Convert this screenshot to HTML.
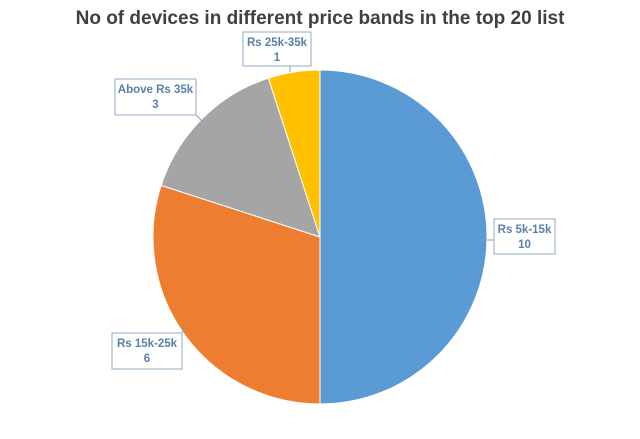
<!DOCTYPE html>
<html><head><meta charset="utf-8"><style>
body{margin:0;background:#fff;font-family:"Liberation Sans",sans-serif}
svg{display:block}
</style></head><body>
<svg width="640" height="439" viewBox="0 0 640 439">
<text x="320" y="24" text-anchor="middle" font-size="19" font-weight="bold" fill="#404040">No of devices in different price bands in the top 20 list</text>
<g id="slices"></g>
<g id="labels"></g>
</svg>
<script>
const categories=["Rs 5k-15k","Rs 15k-25k","Above Rs 35k","Rs 25k-35k"];
const values=[10,6,3,1];
const colors=["#5b9bd5","#ed7d31","#a5a5a5","#ffc000"];
const boxes=[[494,219,61,35,487,240],[112,333,70,36,186,327],[115,79,81,36,203,122],[243,32,68,34,290,72]];
const cx=320,cy=237,r=167;
const ns="http://www.w3.org/2000/svg";
const total=values.reduce((a,b)=>a+b,0);
let a0=0;
const sg=document.getElementById("slices"),lg=document.getElementById("labels");
values.forEach((v,i)=>{
  const a1=a0+v/total*2*Math.PI;
  const x0=cx+r*Math.sin(a0),y0=cy-r*Math.cos(a0),x1=cx+r*Math.sin(a1),y1=cy-r*Math.cos(a1);
  const p=document.createElementNS(ns,"path");
  p.setAttribute("d",`M${cx},${cy}L${x0},${y0}A${r},${r} 0 ${a1-a0>Math.PI?1:0} 1 ${x1},${y1}Z`);
  p.setAttribute("fill",colors[i]);p.setAttribute("stroke","#fff");p.setAttribute("stroke-width","1");
  
  
  sg.appendChild(p);
  const b=boxes[i];
  const g=document.createElementNS(ns,"g");
  
  
  const ln=document.createElementNS(ns,"line");
  const bx=Math.max(b[0],Math.min(b[0]+b[2],b[4])),by=Math.max(b[1],Math.min(b[1]+b[3],b[5]));
  ln.setAttribute("x1",bx);ln.setAttribute("y1",by);ln.setAttribute("x2",b[4]);ln.setAttribute("y2",b[5]);
  ln.setAttribute("stroke","#7f9fc0");
  g.appendChild(ln);
  const rc=document.createElementNS(ns,"rect");
  rc.setAttribute("x",b[0]);rc.setAttribute("y",b[1]);rc.setAttribute("width",b[2]);rc.setAttribute("height",b[3]);
  rc.setAttribute("fill","#fff");rc.setAttribute("stroke","#8fa9c6");
  g.appendChild(rc);
  [categories[i],String(v)].forEach((s,k)=>{
    const t=document.createElementNS(ns,"text");
    t.setAttribute("x",b[0]+b[2]/2);t.setAttribute("y",b[1]+14+k*15);
    t.setAttribute("text-anchor","middle");t.setAttribute("font-size","11.5");t.setAttribute("font-weight","bold");t.setAttribute("fill","#5a7fa8");
    t.textContent=s;g.appendChild(t);
  });
  lg.appendChild(g);
  a0=a1;
});
</script>
</body></html>
